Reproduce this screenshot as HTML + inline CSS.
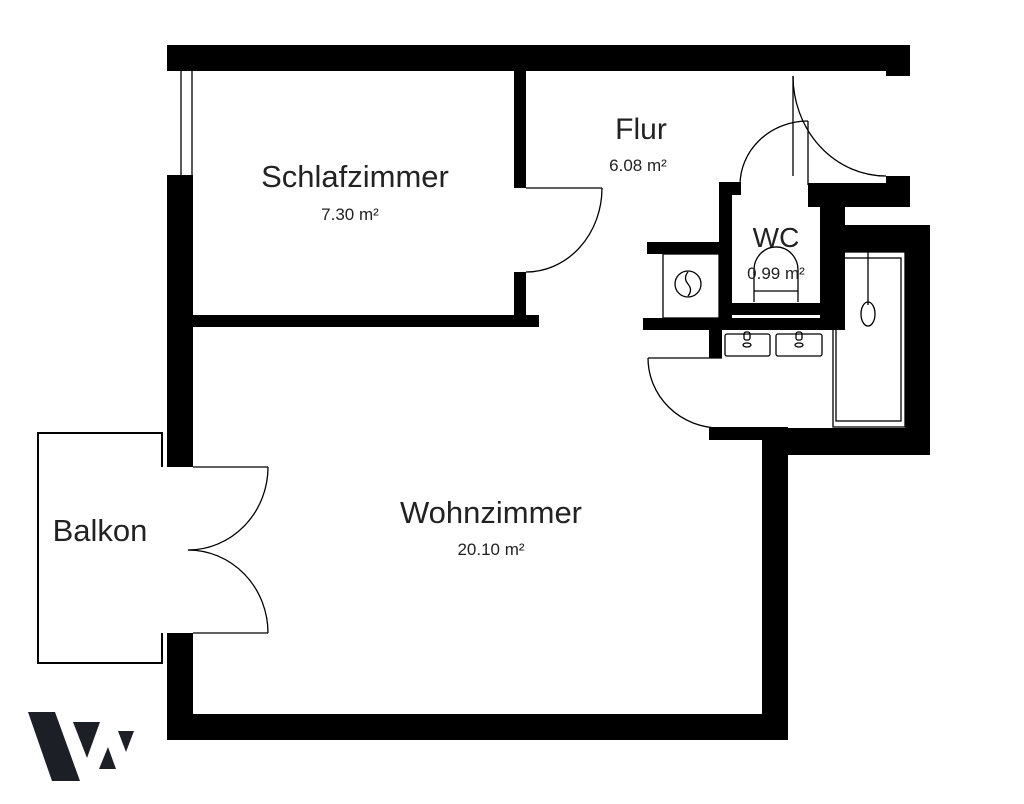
<!DOCTYPE html>
<html><head><meta charset="utf-8"><style>
html,body{margin:0;padding:0;background:#fff;}
svg{display:block;}
text{font-family:"Liberation Sans",sans-serif;fill:#222;}
</style></head><body>
<svg width="1024" height="804" viewBox="0 0 1024 804" xmlns="http://www.w3.org/2000/svg">
<g fill="#000">
<rect x="167" y="45" width="743" height="26"/>
<rect x="886" y="45" width="24" height="31"/>
<rect x="167" y="175" width="26" height="292"/>
<rect x="167" y="633" width="26" height="107"/>
<rect x="167" y="714" width="621" height="26"/>
<rect x="762" y="428" width="26" height="312"/>
<rect x="514" y="71" width="12" height="117"/>
<rect x="514" y="272" width="12" height="55"/>
<rect x="193" y="315" width="346" height="12"/>
<rect x="886" y="176" width="24" height="30"/>
<rect x="808" y="183" width="102" height="24"/>
<rect x="719" y="182" width="13" height="148"/>
<rect x="719" y="182" width="22" height="13"/>
<rect x="808" y="183" width="37" height="12"/>
<rect x="820" y="183" width="25" height="147"/>
<rect x="832" y="183" width="13" height="45"/>
<rect x="732" y="303" width="88" height="12"/>
<rect x="832" y="225" width="98" height="27"/>
<rect x="905" y="225" width="25" height="230"/>
<rect x="762" y="428" width="168" height="27"/>
<rect x="709" y="427" width="79" height="13"/>
<rect x="820" y="225" width="12" height="105"/>
<rect x="647" y="242" width="85" height="12"/>
<rect x="643" y="318" width="189" height="12"/>
<rect x="709" y="318" width="13" height="40"/>
</g>
<g fill="none" stroke="#000" stroke-width="1.3">
<line x1="181" y1="71" x2="181" y2="175"/>
<line x1="192" y1="71" x2="192" y2="175"/>
<line x1="526" y1="188" x2="602" y2="188"/>
<path d="M602 188 A76 84 0 0 1 526 272"/>
<line x1="793" y1="76" x2="793" y2="176"/>
<path d="M793 76 A93 100 0 0 0 886 176"/>
<line x1="808" y1="121" x2="808" y2="185"/>
<path d="M808 121 A68 64 0 0 0 740 185"/>
<line x1="648" y1="358" x2="722" y2="358"/>
<path d="M648 358 A72 70 0 0 0 720 428"/>
<rect x="663" y="254" width="56" height="64"/>
<circle cx="688" cy="284" r="13"/>
<path d="M688 272 q-5 6 0 12 q5 6 0 12"/>
<path d="M754 302 V270 a21 22 0 0 1 44 0 V302"/>
<line x1="754" y1="291" x2="798" y2="291"/>
<rect x="725" y="334" width="45" height="22" rx="2"/>
<rect x="776" y="334" width="46" height="22" rx="2"/>
<rect x="744" y="332" width="6" height="8" rx="2"/>
<rect x="796" y="332" width="6" height="8" rx="2"/>
<ellipse cx="747" cy="345" rx="4" ry="2"/>
<ellipse cx="799" cy="345" rx="4" ry="2"/>
<rect x="833" y="252" width="72" height="175"/>
<rect x="836" y="258" width="65" height="163"/>
<line x1="868" y1="252" x2="868" y2="305"/>
<ellipse cx="868" cy="314" rx="7" ry="12"/>
<path d="M162 467 V433 H38 V663 H162 V633" stroke-width="2"/>
<line x1="193" y1="467" x2="268" y2="467"/>
<line x1="193" y1="633" x2="268" y2="633"/>
<path d="M268 467 A80 83 0 0 1 188 550"/>
<path d="M188 550 A80 83 0 0 1 268 633"/>
</g>
<g fill="#1c1f26">
<polygon points="28,712 55,712 80,781 52,781"/>
<polygon points="73,722 100,722 87,758"/>
<polygon points="99,769 116,769 108,747"/>
<polygon points="118,731 134,731 126,752"/>
</g>
<text x="355" y="187" font-size="31" text-anchor="middle">Schlafzimmer</text>
<text x="350" y="220" font-size="17" text-anchor="middle">7.30 m²</text>
<text x="641" y="139" font-size="30" text-anchor="middle">Flur</text>
<text x="638" y="171" font-size="17" text-anchor="middle">6.08 m²</text>
<text x="776" y="247" font-size="28" text-anchor="middle">WC</text>
<text x="776" y="279" font-size="17" text-anchor="middle">0.99 m²</text>
<text x="491" y="523" font-size="31" text-anchor="middle">Wohnzimmer</text>
<text x="491" y="555" font-size="17" text-anchor="middle">20.10 m²</text>
<text x="100" y="541" font-size="31" text-anchor="middle">Balkon</text>
</svg>
</body></html>
